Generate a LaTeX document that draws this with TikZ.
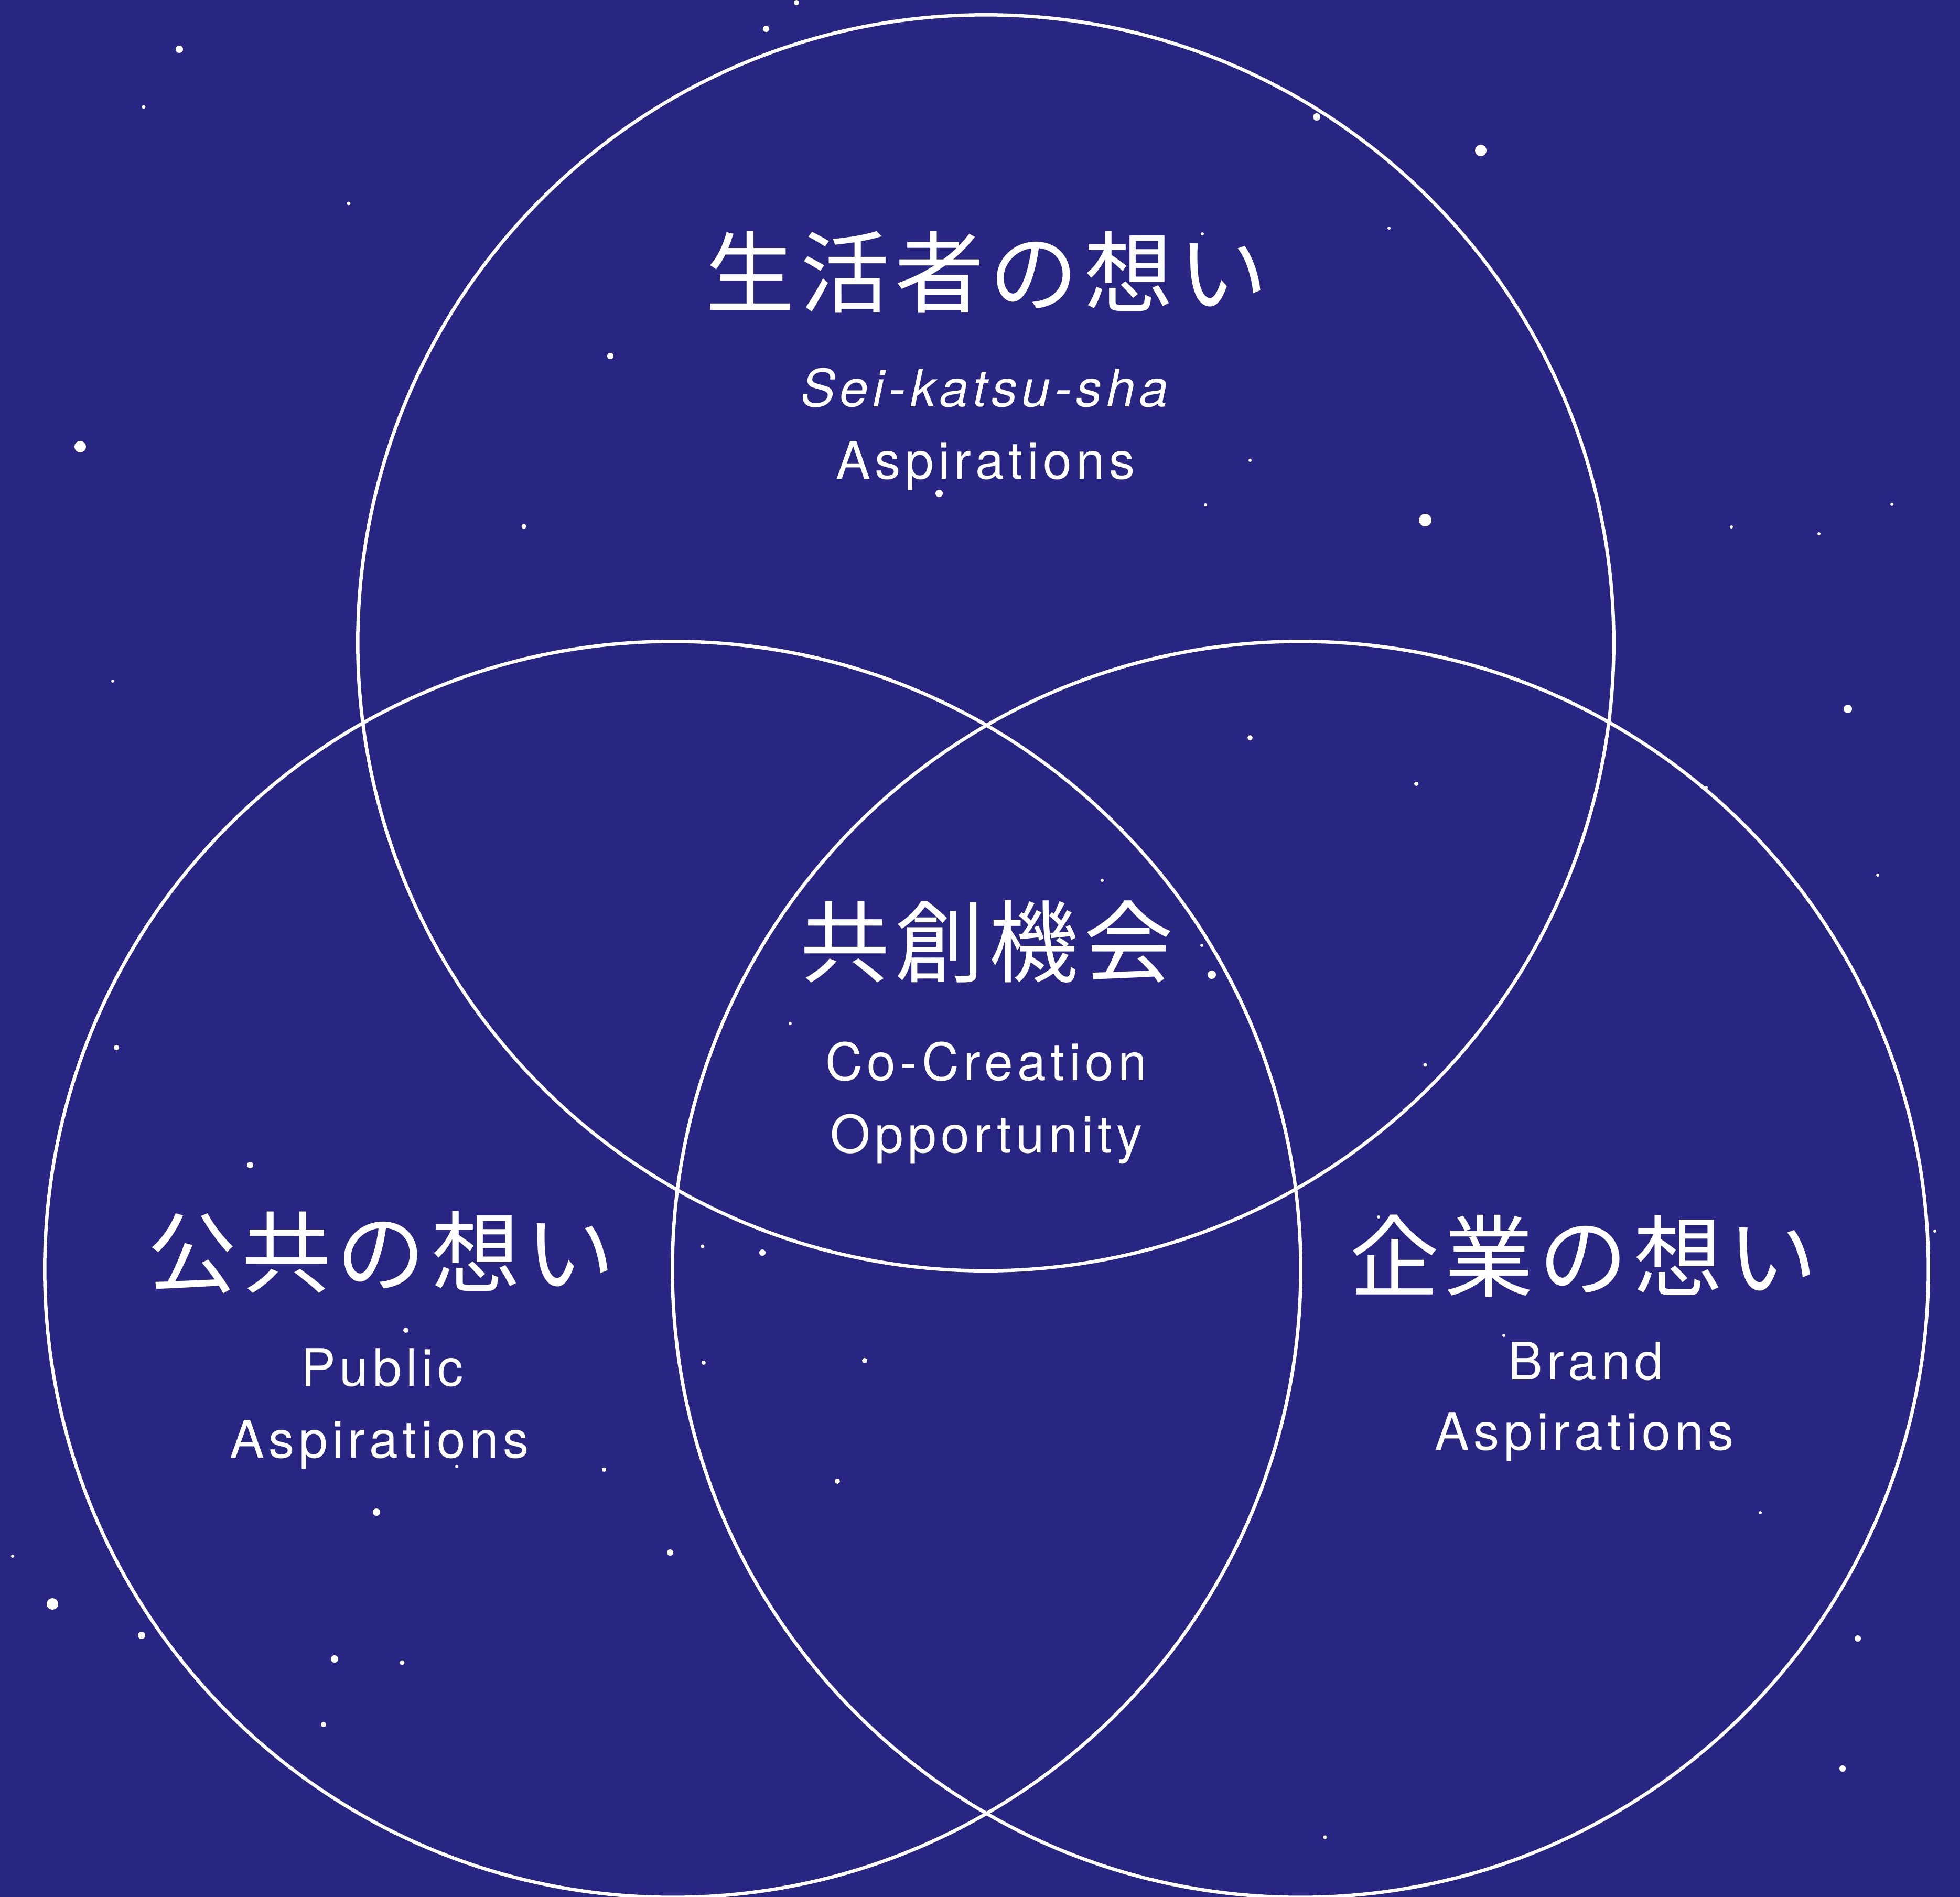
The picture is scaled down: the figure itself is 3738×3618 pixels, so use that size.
\documentclass[tikz,border=0pt]{standalone}
\usepackage{fontspec}
\setmainfont{TeX Gyre Heros}
\newfontfamily\jpfont[LetterSpace=6]{Noto Sans CJK JP}
\newfontfamily\enfont[LetterSpace=8.5]{TeX Gyre Heros}
\definecolor{bg}{RGB}{40,37,131}
\begin{document}
\begin{tikzpicture}[x=0.01cm,y=-0.01cm,
  ring/.style={circle, draw=white, line width=0.065cm, minimum size=23.94cm, inner sep=0pt, outer sep=0pt},
  jp/.style={text=white, font=\jpfont\fontsize{48.4}{58}\selectfont, anchor=base, inner sep=0pt},
  en/.style={text=white, font=\enfont\fontsize{28}{39}\selectfont, anchor=base, inner sep=0pt},
  enit/.style={en, font=\enfont\fontsize{28}{39}\selectfont\itshape},
  star/.style={fill=white}]
\useasboundingbox (0,0) rectangle (3738,3618);
\fill[bg] (0,0) rectangle (3738,3618);
% stars
\foreach \x/\y/\r in {
 342/94/0.07, 274/204/0.035, 665/388/0.035, 153/852/0.11, 1164/679/0.06, 999/1004/0.045,
 1791/941/0.07, 1461/55/0.06, 1519/5/0.05, 2511/223/0.07, 2824/287/0.11, 2718/992/0.12,
 2649/435/0.03, 2384/878/0.03, 2299/963/0.03, 3302/1005/0.03, 3469/1018/0.03, 3608/962/0.03,
 2293/446/0.03, 3524/1352/0.08, 2384/1407/0.05, 2701/1495/0.04, 2311/1859/0.08, 2292/1803/0.03,
 2102/1679/0.03, 1507/1952/0.03, 222/1998/0.05, 477/2222/0.06, 1454/2389/0.06, 1340/2377/0.035,
 1649/2595/0.05, 1342/2599/0.04, 718/2884/0.07, 1278/2961/0.06, 1152/2803/0.04, 871/2797/0.03,
 100/3059/0.11, 270/3119/0.07, 638/3164/0.07, 767/3171/0.045, 617/3289/0.05, 344/3163/0.04,
 1597/2825/0.05, 3543/3125/0.06, 3514/3373/0.06, 2527/3504/0.035, 2718/2031/0.035, 3357/2885/0.03,
 3254/1502/0.03, 3581/1669/0.03, 3690/2348/0.03, 215/1299/0.03, 24/2968/0.03, 774/2537/0.05,
 2629/2321/0.03, 2868/2547/0.03}
 \fill[star] (\x,\y) circle (\r cm);
% circles
\node[ring] (top) at (1880,1226) {};
\node[ring] (left) at (1283,2421) {};
\node[ring] (right) at (2480,2421) {};
% texts
\node[jp] (tjp) at (1882,583) {生活者の想い};
\node[enit] (ten1) at (1878,775) {Sei-katsu-sha};
\node[en] (ten2) at (1880,913) {Aspirations};
\node[jp] (cjp) at (1882,1860) {共創機会};
\node[en] (cen1) at (1881,2060) {Co-Creation};
\node[en] (cen2) at (1881,2198) {Opportunity};
\node[jp] (ljp) at (727,2452) {公共の想い};
\node[en] (len1) at (729,2643) {Public};
\node[en] (len2) at (724,2780) {Aspirations};
\node[jp] (rjp) at (3020,2460) {企業の想い};
\node[en] (ren1) at (3024,2631) {Brand};
\node[en] (ren2) at (3022,2765) {Aspirations};
\end{tikzpicture}
\end{document}
